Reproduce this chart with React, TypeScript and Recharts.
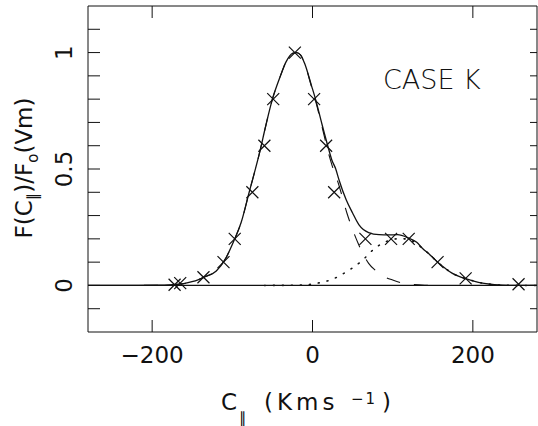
import { ComposedChart, Line, Scatter, XAxis, YAxis } from "recharts"

const FONT = "DejaVu Sans"
const INK = "#111"

// measured points (crosses)
const crossX = [-172, -165, -136, -111, -97, -75, -60, -49, -22, 2, 17, 27, 66, 98, 120, 156, 191, 257]
const crossY = [0.003, 0.01, 0.035, 0.1, 0.2, 0.4, 0.6, 0.8, 1.0, 0.8, 0.6, 0.4, 0.2, 0.2, 0.2, 0.1, 0.03, 0.005]

// total fit (solid)
const fitX = [-280, -230, -190, -180, -170, -162, -149, -135, -120, -108, -97.5, -89, -79, -66, -58, -50, -40, -33, -25, -20, -15, -10, -1, 4, 12, 19, 24, 29, 33, 42, 50, 58, 70, 83, 95, 106, 120, 130, 137, 147, 156, 165, 174, 182, 191, 200, 212, 222, 232, 245, 260, 280]
const fitY = [0, 0, 0.001, 0.002, 0.004, 0.007, 0.017, 0.036, 0.062, 0.118, 0.196, 0.27, 0.4, 0.57, 0.69, 0.8, 0.9, 0.96, 0.997, 1.0, 0.99, 0.955, 0.855, 0.797, 0.69, 0.6, 0.54, 0.5, 0.454, 0.368, 0.311, 0.26, 0.227, 0.218, 0.217, 0.218, 0.203, 0.185, 0.16, 0.13, 0.1, 0.075, 0.053, 0.04, 0.029, 0.02, 0.01, 0.005, 0.002, 0.0005, 0, 0]

// main component (dashed)
const mainX = [-280, -230, -190, -180, -170, -162, -149, -135, -120, -108, -97.5, -89, -79, -66, -58, -50, -40, -33, -25, -20, -15, -10, -1, 4, 12, 19, 24, 33, 43, 50, 57, 63, 70, 80, 90, 100, 110, 120, 140, 160, 280]
const mainY = [0, 0, 0.001, 0.002, 0.004, 0.007, 0.017, 0.036, 0.062, 0.118, 0.196, 0.27, 0.4, 0.57, 0.69, 0.8, 0.9, 0.96, 0.997, 1.0, 0.99, 0.955, 0.85, 0.79, 0.68, 0.58, 0.52, 0.43, 0.31, 0.24, 0.18, 0.135, 0.095, 0.06, 0.037, 0.023, 0.012, 0.006, 0.001, 0, 0]

// second component (dotted)
const secX = [-60, -20, 0, 8, 20, 32, 43, 54, 63, 73, 83, 93, 105, 115, 125, 137, 147, 156, 165, 174, 182, 191, 200, 212, 222, 232, 245, 260, 280]
const secY = [0, 0.001, 0.006, 0.011, 0.021, 0.038, 0.06, 0.085, 0.11, 0.145, 0.172, 0.19, 0.2, 0.2, 0.19, 0.16, 0.13, 0.1, 0.075, 0.053, 0.04, 0.029, 0.02, 0.01, 0.005, 0.002, 0.0005, 0, 0]

// zero baseline
const zeroX = [-280, 280]
const zeroY = [0, 0]

const xTicks = [-200, 0, 200]
const yTicks = [-0.1, 0, 0.1, 0.2, 0.3, 0.4, 0.5, 0.6, 0.7, 0.8, 0.9, 1, 1.1]
const yLabelled = [0, 0.5, 1]

const toPoints = (xs: number[], ys: number[]) => xs.map((x, i) => ({ x, y: ys[i] }))
const crosses = toPoints(crossX, crossY)
const fit = toPoints(fitX, fitY)
const mainComp = toPoints(mainX, mainY)
const secComp = toPoints(secX, secY)
const zero = toPoints(zeroX, zeroY)

const fmt = (v: number) => (v < 0 ? "\u2212" + Math.abs(v) : String(v))

function LeftTick({ x, y, payload }: any) {
  const v = payload.value
  return (
    <g>
      <line x1={x} x2={x + 12} y1={y} y2={y} stroke={INK} />
      {yLabelled.includes(v) && (
        <text x={72} y={y} transform={`rotate(-90 72 ${y})`} textAnchor="middle" fontSize={23} fontFamily={FONT} fill={INK}>
          {v}
        </text>
      )}
    </g>
  )
}

function RightTick({ x, y }: any) {
  return <line x1={x} x2={x - 7} y1={y} y2={y} stroke={INK} />
}

function BottomTick({ x, y, payload }: any) {
  return (
    <g>
      <line x1={x} x2={x} y1={y} y2={y - 12} stroke={INK} />
      <text x={x} y={363} textAnchor="middle" fontSize={23} fontFamily={FONT} fill={INK}>
        {fmt(payload.value)}
      </text>
    </g>
  )
}

function TopTick({ x, y }: any) {
  return <line x1={x} x2={x} y1={y} y2={y + 12} stroke={INK} />
}

function Cross({ cx, cy }: any) {
  const s = 6
  return (
    <path
      d={`M${cx - s},${cy - s}L${cx + s},${cy + s}M${cx - s},${cy + s}L${cx + s},${cy - s}`}
      stroke={INK}
      strokeWidth={1.2}
      fill="none"
    />
  )
}

const yTitle = () => (
  <text x={32} y={168} transform="rotate(-90 32 168)" textAnchor="middle" fontSize={23} fontFamily={FONT} fill={INK}>
    F(C<tspan fontSize={15} dy={6}>∥</tspan>
    <tspan dy={-6}>)/F</tspan>
    <tspan fontSize={15} dy={6}>o</tspan>
    <tspan dy={-6}>(Vm)</tspan>
  </text>
)

const xTitle = () => (
  <g>
    <text x={221} y={410} fontSize={23} fontFamily={FONT} fill={INK}>C</text>
    <text x={239} y={423} fontSize={15} fontFamily={FONT} fill={INK}>∥</text>
    <text x={264} y={410} fontSize={23} letterSpacing={4} fontFamily={FONT} fill={INK}>(Kms</text>
    <text x={351} y={404} fontSize={15} letterSpacing={2} fontFamily={FONT} fill={INK}>{"\u22121"}</text>
    <text x={382} y={410} fontSize={23} fontFamily={FONT} fill={INK}>)</text>
  </g>
)

const caseLabel = () => (
  <text x={383} y={89} fontSize={27} fontFamily={FONT} fontWeight={200} fill={INK}>
    CASE K
  </text>
)

export default function App() {
  return (
    <div style={{ position: "absolute", left: 0, top: 0 }}>
      <ComposedChart width={538} height={426} margin={{ top: 5, right: 0, bottom: 0, left: 0 }}>
        <XAxis
          xAxisId="bottom"
          dataKey="x"
          type="number"
          domain={[-280, 280]}
          ticks={xTicks}
          allowDataOverflow
          height={94}
          tickSize={0}
          tickMargin={0}
          tickLine={false}
          axisLine={{ stroke: INK }}
          tick={BottomTick}
          label={xTitle}
        />
        <XAxis
          xAxisId="top"
          orientation="top"
          dataKey="x"
          type="number"
          domain={[-280, 280]}
          ticks={xTicks}
          allowDataOverflow
          height={1}
          tickSize={0}
          tickMargin={0}
          tickLine={false}
          axisLine={{ stroke: INK }}
          tick={TopTick}
          label={caseLabel}
        />
        <YAxis
          yAxisId="left"
          dataKey="y"
          type="number"
          domain={[-0.2, 1.2]}
          ticks={yTicks}
          allowDataOverflow
          width={88}
          tickSize={0}
          tickMargin={0}
          tickLine={false}
          axisLine={{ stroke: INK }}
          tick={LeftTick}
          label={yTitle}
        />
        <YAxis
          yAxisId="right"
          orientation="right"
          dataKey="y"
          type="number"
          domain={[-0.2, 1.2]}
          ticks={yTicks}
          allowDataOverflow
          width={1}
          tickSize={0}
          tickMargin={0}
          tickLine={false}
          axisLine={{ stroke: INK }}
          tick={RightTick}
        />
        <Line xAxisId="top" yAxisId="right" data={zero} dataKey="y" type="linear" dot={false} stroke={INK} strokeWidth={1.3} isAnimationActive={false} />
        <Line xAxisId="bottom" yAxisId="left" data={secComp} dataKey="y" type="monotone" dot={false} stroke={INK} strokeWidth={1.6} strokeDasharray="1 8" strokeLinecap="round" isAnimationActive={false} />
        <Line xAxisId="bottom" yAxisId="left" data={mainComp} dataKey="y" type="monotone" dot={false} stroke={INK} strokeWidth={1.1} strokeDasharray="14 14" isAnimationActive={false} />
        <Line xAxisId="bottom" yAxisId="left" data={fit} dataKey="y" type="monotone" dot={false} stroke={INK} strokeWidth={1.3} isAnimationActive={false} />
        <Scatter xAxisId="bottom" yAxisId="left" data={crosses} dataKey="y" shape={Cross} isAnimationActive={false} />
      </ComposedChart>
    </div>
  )
}
